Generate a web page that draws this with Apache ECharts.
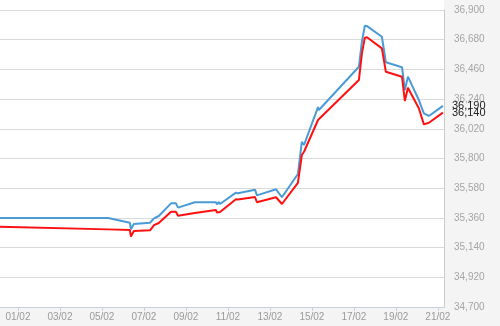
<!DOCTYPE html>
<html>
<head>
<meta charset="utf-8">
<script src="https://cdn.jsdelivr.net/npm/echarts@6/dist/echarts.min.js"></script>
<style>
html,body{margin:0;padding:0;background:#f4f4f4;}
#c{width:500px;height:326px;}
</style>
</head>
<body>
<div id="c"></div>
<script>
// Shared timestamps of the two series
const times = [
  '2013-01-31 03:30','2013-02-05 07:00','2013-02-06 08:00','2013-02-06 09:10','2013-02-06 12:30',
  '2013-02-07 07:00','2013-02-07 11:30','2013-02-07 17:00','2013-02-08 07:00','2013-02-08 12:30',
  '2013-02-08 15:00','2013-02-09 10:15','2013-02-10 10:15','2013-02-10 11:30','2013-02-10 13:45',
  '2013-02-10 15:00','2013-02-11 09:10','2013-02-11 11:30','2013-02-12 07:00','2013-02-12 09:10',
  '2013-02-13 07:00','2013-02-13 13:45','2013-02-14 08:00','2013-02-14 12:30','2013-02-14 15:00',
  '2013-02-15 07:00','2013-02-15 08:00','2013-02-17 05:45','2013-02-17 09:10','2013-02-17 12:30',
  '2013-02-17 15:00','2013-02-18 08:00','2013-02-18 12:30','2013-02-19 07:00','2013-02-19 10:15',
  '2013-02-19 13:45','2013-02-20 02:15','2013-02-20 08:00','2013-02-20 13:45','2013-02-21 05:45'
];
const blueValues = [
  35360,35360,35324,35276,35315,
  35324,35356,35374,35468,35468,
  35436,35476,35476,35461,35478,
  35463,35547,35542,35569,35527,
  35572,35513,35685,35924,35900,
  36181,36159,36480,36665,36784,
  36781,36702,36513,36476,36307,
  36406,36233,36135,36115,36190
];
const redValues = [
  35295,35275,35270,35221,35263,
  35268,35307,35322,35406,35406,
  35376,35396,35419,35399,35413,
  35404,35498,35496,35515,35476,
  35513,35463,35619,35826,35850,
  36085,36078,36382,36579,36695,
  36698,36616,36443,36406,36226,
  36324,36172,36053,36065,36140
];
const xTickDates = ['2013-02-01','2013-02-03','2013-02-05','2013-02-07','2013-02-09','2013-02-11',
                    '2013-02-13','2013-02-15','2013-02-17','2013-02-19','2013-02-21'];
const xTickLabels = ['01/02','03/02','05/02','07/02','09/02','11/02','13/02','15/02','17/02','19/02','21/02'];
const xMin = '2013-01-31 03:30';
const xMax = '2013-02-21 07:00';
const yMin = 34700, yMax = 36900, yStep = 220;

const toTs = s => echarts.time.parse(s).getTime();
const tickTs = xTickDates.map(toTs);
const fmt = v => Math.round(v).toLocaleString('en-US');
const font = 'Liberation Sans, Arial, sans-serif';

const chart = echarts.init(document.getElementById('c'), null, {renderer:'canvas'});
chart.setOption({
  animation: false,
  backgroundColor: '#f4f4f4',
  graphic: [{
    type: 'rect', silent: true, z: -10,
    shape: {x: 0, y: 0, width: 444, height: 307},
    style: {fill: '#ffffff'}
  }],
  grid: {left: 0, right: 56, top: 10, bottom: 19, outerBoundsMode: 'none', containLabel: false},
  xAxis: {
    type: 'value',
    min: toTs(xMin), max: toTs(xMax),
    axisLine: {show: true, lineStyle: {color: '#c5d0e0', width: 1}},
    axisTick: {show: true, customValues: tickTs, length: 4, lineStyle: {color: '#c5d0e0'}},
    axisLabel: {
      customValues: tickTs, color: '#9a9a9a', fontSize: 10, fontFamily: font, margin: 5,
      formatter: v => { const i = tickTs.indexOf(v); return i >= 0 ? xTickLabels[i] : ''; }
    },
    splitLine: {show: false}
  },
  yAxis: {
    type: 'value', position: 'right',
    min: yMin, max: yMax, interval: yStep,
    axisLine: {show: true, lineStyle: {color: '#cccccc'}},
    axisTick: {show: false},
    axisLabel: {color: '#a5a5a5', fontSize: 10, fontFamily: font, margin: 10, formatter: fmt},
    splitLine: {show: true, lineStyle: {color: '#d9d9d9', width: 1}}
  },
  series: [
    {
      type: 'line', name: 'blue', showSymbol: false, symbol: 'none',
      lineStyle: {color: '#4a9bd5', width: 2}, itemStyle: {color: '#4a9bd5'},
      data: times.map((t, i) => [toTs(t), blueValues[i]]),
      endLabel: {show: true, distance: 9, color: '#222', fontSize: 11, fontFamily: font,
                 formatter: p => fmt(p.value[1])}
    },
    {
      type: 'line', name: 'red', showSymbol: false, symbol: 'none',
      lineStyle: {color: '#ff1010', width: 2}, itemStyle: {color: '#ff1010'},
      data: times.map((t, i) => [toTs(t), redValues[i]]),
      endLabel: {show: true, distance: 9, color: '#222', fontSize: 11, fontFamily: font,
                 formatter: p => fmt(p.value[1])}
    }
  ]
});
</script>
</body>
</html>
